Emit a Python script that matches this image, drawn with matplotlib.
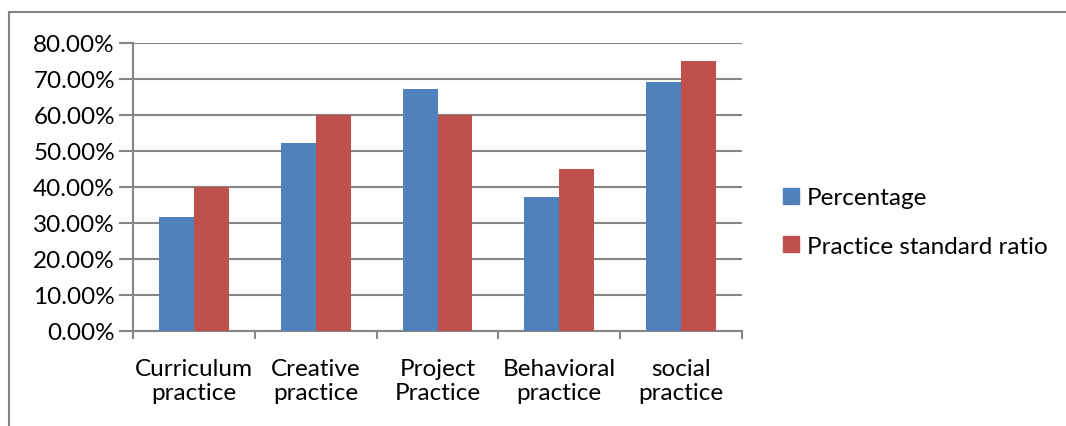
import numpy as np
import matplotlib
matplotlib.use('Agg')
from matplotlib import pyplot as plt
from matplotlib.lines import Line2D
from matplotlib.ticker import FuncFormatter

# chart data
categories = ['Curriculum\npractice', 'Creative\npractice', 'Project\nPractice',
              'Behavioral\npractice', 'social\npractice']
percentage = [31.8, 52.1, 67.2, 37.2, 69.3]
standard_ratio = [40.0, 60.0, 60.0, 45.0, 75.0]
series_names = ['Percentage', 'Practice standard ratio']

plt.rcParams['font.family'] = ['Lato', 'DejaVu Sans']
grid_color = '#868686'
fs = 17.5

fig = plt.figure(figsize = (10.66, 4.27), dpi = 100)
ax = fig.add_axes([133 / 1066, 1 - 332 / 427, 609 / 1066, 288 / 427])

x = np.arange(len(categories))
w = 0.286
ax.bar(x - w / 2, percentage, w, color = '#4f81bd', label = series_names[0], zorder = 3)
ax.bar(x + w / 2, standard_ratio, w, color = '#c0504d', label = series_names[1], zorder = 3)

ax.set_xlim(-0.5, len(categories) - 0.5)
ax.set_ylim(0, 80)
ax.set_yticks(np.arange(0, 81, 10))
ax.yaxis.set_major_formatter(FuncFormatter(lambda v, p: '%.2f%%' % v))
ax.set_xticks(np.arange(-0.5, len(categories), 1))
ax.set_xticklabels([])
ax.yaxis.grid(True, color = grid_color, linewidth = 1.5, zorder = 0)
for s in ['top', 'right']:
    ax.spines[s].set_visible(False)
for s in ['left', 'bottom']:
    ax.spines[s].set_color(grid_color)
    ax.spines[s].set_linewidth(1.5)
ax.tick_params(axis = 'y', length = 10, width = 1.5, color = grid_color,
               labelsize = fs, pad = 3, labelcolor = 'black')
ax.tick_params(axis = 'x', length = 6, width = 1.5, color = grid_color)

# category labels, two lines each
for i, c in enumerate(categories):
    ax.text(i, -7.6, c, ha = 'center', va = 'top', fontsize = fs,
            linespacing = 1.15)

# legend
handles = [Line2D([], [], marker = 's', linestyle = 'none', markersize = 11,
                  markerfacecolor = col, markeredgecolor = col)
           for col in ['#4f81bd', '#c0504d']]
fig.legend(handles, series_names, loc = 'center left',
           bbox_to_anchor = (757 / 1066, 1 - 223 / 427), frameon = False,
           fontsize = fs, handlelength = 1.0, handletextpad = 0.15,
           labelspacing = 1.15)

# outer frame (top and left edges only)
fig.add_artist(Line2D([9 / 1066, 9 / 1066], [0, 1 - 13 / 427],
                      color = grid_color, linewidth = 1.5, transform = fig.transFigure))
fig.add_artist(Line2D([9 / 1066, 1], [1 - 13 / 427, 1 - 13 / 427],
                      color = grid_color, linewidth = 1.5, transform = fig.transFigure))

fig.savefig('out.png', dpi = 100)
